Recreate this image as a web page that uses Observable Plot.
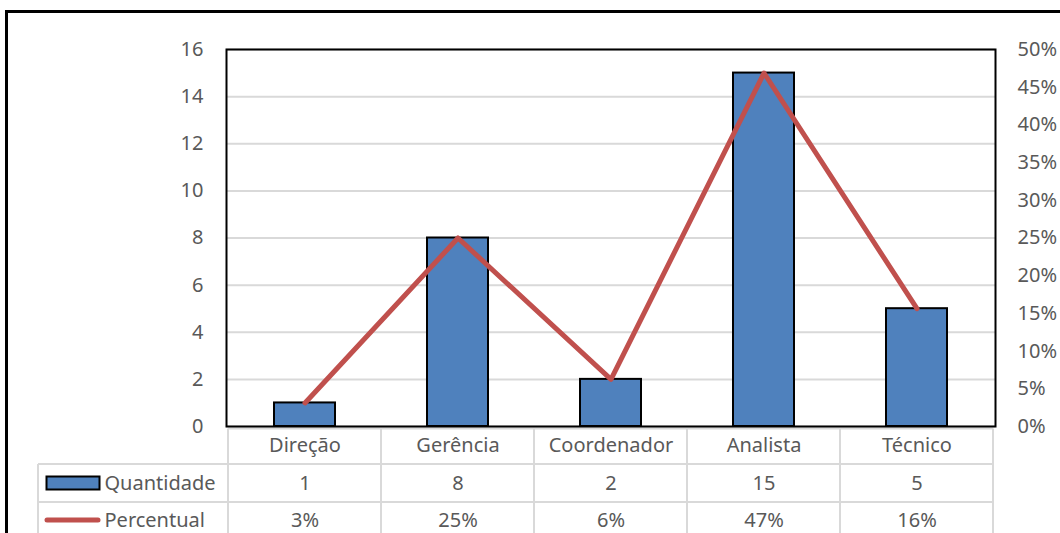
<!DOCTYPE html>
<html>
<head>
<meta charset="utf-8">
<script src="https://cdn.jsdelivr.net/npm/d3@7"></script>
<script src="https://cdn.jsdelivr.net/npm/@observablehq/plot@0.6"></script>
<style>
  html, body { margin: 0; padding: 0; background: #fff; overflow: hidden; }
  #wrap { position: relative; width: 1060px; height: 533px; }
  #outline {
    position: absolute; left: 5px; top: 10px; width: 1100px; height: 600px;
    border-top: 3px solid #000; border-left: 3px solid #000;
    box-sizing: border-box; pointer-events: none;
  }
</style>
</head>
<body>
<div id="wrap"><div id="chart"></div><div id="outline"></div></div>
<script>
// Cargos: quantidade de pessoas e percentual sobre o total
const categories = ["Direção", "Gerência", "Coordenador", "Analista", "Técnico"];
const quantidade = [1, 8, 2, 15, 5];
const percentual = [0.03125, 0.25, 0.0625, 0.46875, 0.15625];
const seriesNames = ["Quantidade", "Percentual"];
const countTicks = [0, 2, 4, 6, 8, 10, 12, 14, 16];
const pctTicks = [0, 0.05, 0.10, 0.15, 0.20, 0.25, 0.30, 0.35, 0.40, 0.45, 0.50];

const countMax = 16;   // left axis top
const pctMax = 0.5;    // right axis top (aligned with countMax)
const toY = p => p / pctMax * countMax;
const fmtPct = d3.format(".0%");

const rows = categories.map((c, i) => ({cat: c, q: quantidade[i], p: percentual[i]}));

const ink = "#595959";
const gridColor = "#D9D9D9";
const font = "'Noto Sans', sans-serif";

const chart = Plot.plot({
  width: 1060,
  height: 533,
  marginTop: 49,
  marginBottom: 107,
  marginLeft: 226,
  marginRight: 65,
  style: {fontFamily: font, fontSize: "20px", color: ink, background: "transparent", overflow: "visible"},
  x: {domain: categories, paddingInner: 0.6, paddingOuter: 0.3, axis: null},
  y: {domain: [0, countMax], axis: null},
  marks: [
    Plot.gridY(countTicks, {stroke: gridColor, strokeOpacity: 1, strokeWidth: 2}),
    Plot.axisY(countTicks, {anchor: "left", tickSize: 0, tickPadding: 23, fill: ink, label: null}),
    Plot.axisY(pctTicks.map(toY), {
      anchor: "right", tickSize: 0, tickPadding: 22, fill: ink, label: null,
      tickFormat: v => fmtPct(v / countMax * pctMax)
    }),
    Plot.barY(rows, {x: "cat", y: "q", fill: "#4F81BD", stroke: "#000", strokeWidth: 2}),
    Plot.line(rows, {
      x: "cat", y: d => toY(d.p), stroke: "#C0504D", strokeWidth: 5,
      strokeLinejoin: "round", strokeLinecap: "round"
    }),
    Plot.frame({stroke: "#000", strokeWidth: 2}),
    // data table under the chart
    Plot.text(categories, {x: d => d, frameAnchor: "bottom", dy: 25, fill: ink}),
    Plot.text(rows, {x: "cat", text: d => String(d.q), frameAnchor: "bottom", dy: 63, fill: ink}),
    Plot.text(rows, {x: "cat", text: d => fmtPct(d.p), frameAnchor: "bottom", dy: 100, fill: ink}),
    Plot.text([seriesNames[0]], {frameAnchor: "bottom-left", dx: -122, dy: 63, textAnchor: "start", fill: ink}),
    Plot.text([seriesNames[1]], {frameAnchor: "bottom-left", dx: -122, dy: 100, textAnchor: "start", fill: ink})
  ]
});

document.getElementById("chart").appendChild(chart);

// table grid lines and legend keys, placed from the x scale
const svg = d3.select(chart);
const xs = chart.scale("x");
const step = xs.step, bw = xs.bandwidth;
const bounds = categories.map(c => xs.apply(c) + bw / 2 - step / 2);
bounds.push(bounds[bounds.length - 1] + step);
const left = bounds[0], right = bounds[bounds.length - 1];
const yTop = 428.5, yRow1 = 464, yRow2 = 502, yEnd = 540, xKey = 38;

const g = svg.insert("g", ":first-child")
  .attr("stroke", gridColor).attr("stroke-width", 2).attr("fill", "none");
g.append("line").attr("x1", left).attr("x2", right).attr("y1", yTop).attr("y2", yTop);
for (const y of [yRow1, yRow2, yEnd]) {
  g.append("line").attr("x1", xKey).attr("x2", right).attr("y1", y).attr("y2", y);
}
g.append("line").attr("x1", xKey).attr("x2", xKey).attr("y1", yRow1).attr("y2", yEnd);
for (const x of bounds) {
  g.append("line").attr("x1", x).attr("x2", x).attr("y1", yTop).attr("y2", yEnd);
}

const keys = svg.append("g");
keys.append("rect").attr("x", 46.5).attr("y", 476.5).attr("width", 53).attr("height", 13)
  .attr("fill", "#4F81BD").attr("stroke", "#000").attr("stroke-width", 2);
keys.append("line").attr("x1", 47).attr("x2", 98).attr("y1", 520).attr("y2", 520)
  .attr("stroke", "#C0504D").attr("stroke-width", 5).attr("stroke-linecap", "round");
</script>
</body>
</html>
